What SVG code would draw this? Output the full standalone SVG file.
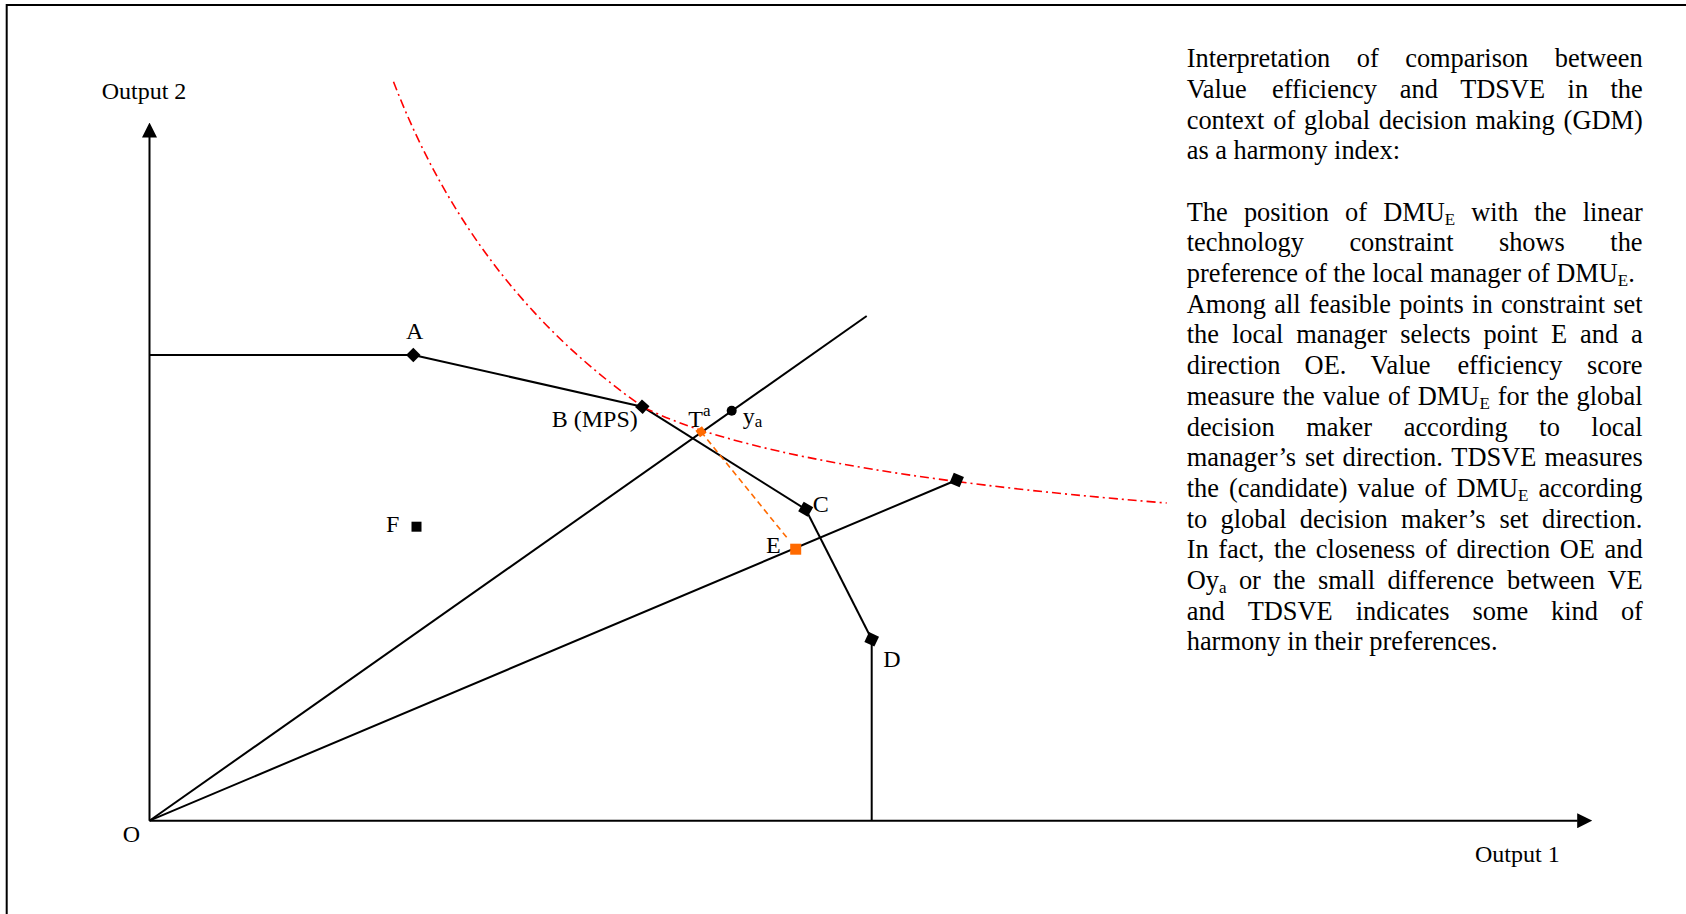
<svg xmlns="http://www.w3.org/2000/svg" xmlns:xlink="http://www.w3.org/1999/xlink" width="1686" height="914" viewBox="0 0 1686 914">
<style>
.ln{stroke:#000;stroke-width:2;fill:none}
.frame{stroke:#000;stroke-width:2;fill:none}
.curve{stroke:#ff0000;stroke-width:1.6;fill:none;stroke-dasharray:9 4 2 4}
.odash{stroke:#ff6a00;stroke-width:1.6;fill:none;stroke-dasharray:6 4}
.t{font-family:"Liberation Serif","Times New Roman",serif;fill:#000}
.body{font-size:26.4px}
.lbl{font-size:24px}
.sub{font-size:17px}
.mk{fill:#000}
.omk{fill:#ff6a00}
</style>
<defs>
<marker id="arr" viewBox="0 0 15 15" markerWidth="15" markerHeight="15" refX="0.5" refY="7.5" orient="auto" markerUnits="userSpaceOnUse">
<path d="M0,0 L15,7.5 L0,15 z" fill="#000"/>
</marker>
<rect id="sq" x="-5.5" y="-5.5" width="11" height="11"/>
</defs>
<rect width="1686" height="914" fill="#fff"/>
<path class="frame" d="M6.7,914 V5 H1686"/>

<g id="connectors">
<line class="ln" x1="149.5" y1="820.7" x2="149.5" y2="137" marker-end="url(#arr)"/>
<line class="ln" x1="149.5" y1="820.7" x2="1577.7" y2="820.7" marker-end="url(#arr)"/>
<line class="ln" x1="149.5" y1="355" x2="413.3" y2="355"/>
<line class="ln" x1="413.3" y1="355" x2="642.3" y2="406.7"/>
<line class="ln" x1="642.3" y1="406.7" x2="805.7" y2="509.3"/>
<line class="ln" x1="805.7" y1="509.3" x2="871.7" y2="639.3"/>
<line class="ln" x1="871.7" y1="639.3" x2="871.7" y2="820.7"/>
<line class="ln" x1="149.5" y1="820.7" x2="866.7" y2="316"/>
<line class="ln" x1="149.5" y1="820.7" x2="956.7" y2="480"/>
<path class="curve" d="M393.5,81.7 C446.6,219.9 529,327.2 643,407 C729.4,450.2 902.2,481.8 1166.7,503"/>
<line class="odash" x1="701" y1="431.7" x2="788" y2="539"/>
</g>

<g id="axis-labels">
<text class="t lbl" x="101.7" y="99.3">Output 2</text>
<text class="t lbl" x="1475" y="861.7">Output 1</text>
</g>
<g id="nodeO"><text class="t lbl" x="122.7" y="841.7">O</text></g>
<g id="nodeA">
<use xlink:href="#sq" href="#sq" class="mk" transform="translate(413.3,355) rotate(45) scale(0.93)"/>
<text class="t lbl" x="406" y="339">A</text>
</g>
<g id="nodeB">
<use xlink:href="#sq" href="#sq" class="mk" transform="translate(642.3,406.7) rotate(42) scale(0.93)"/>
<text class="t lbl" x="551.7" y="427.3">B (MPS)</text>
</g>
<g id="nodeC">
<use xlink:href="#sq" href="#sq" class="mk" transform="translate(805.7,509.3) rotate(30)"/>
<text class="t lbl" x="812.7" y="512">C</text>
</g>
<g id="nodeD">
<use xlink:href="#sq" href="#sq" class="mk" transform="translate(871.7,639.3) rotate(25)"/>
<text class="t lbl" x="883.3" y="667">D</text>
</g>
<g id="nodeR">
<use xlink:href="#sq" href="#sq" class="mk" transform="translate(956.7,480) rotate(23)"/>
</g>
<g id="nodeE">
<rect class="omk" x="790.2" y="543.7" width="11" height="11"/>
<text class="t lbl" x="766" y="552.7">E</text>
</g>
<g id="nodeF">
<rect class="mk" x="411.5" y="521.7" width="10" height="10"/>
<text class="t lbl" x="386" y="532">F</text>
</g>
<g id="nodeTa">
<rect class="omk" x="697" y="427.7" width="8" height="8" transform="rotate(-35,701,431.7)"/>
<text class="t lbl" x="688.3" y="426.7">T<tspan class="sub" dy="-11">a</tspan></text>
</g>
<g id="nodeYa">
<circle class="mk" cx="731.7" cy="410.7" r="5"/>
<text class="t lbl" x="742.7" y="424">y<tspan class="sub" dy="3">a</tspan></text>
</g>

<g id="description" class="t body">
<text y="67.3"><tspan x="1186.7">Interpretation</tspan><tspan x="1356.8">of</tspan><tspan x="1405.2">comparison</tspan><tspan x="1554.8">between</tspan></text>
<text y="98"><tspan x="1186.7">Value</tspan><tspan x="1272">efficiency</tspan><tspan x="1399.8">and</tspan><tspan x="1460.2">TDSVE</tspan><tspan x="1567.6">in</tspan><tspan x="1610.4">the</tspan></text>
<text y="128.7"><tspan x="1186.7">context</tspan><tspan x="1273.2">of</tspan><tspan x="1304">global</tspan><tspan x="1378.8">decision</tspan><tspan x="1475.6">making</tspan><tspan x="1563.6">(GDM)</tspan></text>
<text y="159.3"><tspan x="1186.7">as</tspan><tspan x="1215.3">a</tspan><tspan x="1233.6">harmony</tspan><tspan x="1334.1">index:</tspan></text>
<text y="220.7"><tspan x="1186.7">The</tspan><tspan x="1243.9">position</tspan><tspan x="1345.1">of</tspan><tspan x="1383.2">DMU</tspan><tspan class="sub" dy="4">E</tspan><tspan x="1471.3" dy="-4">with</tspan><tspan x="1534.3">the</tspan><tspan x="1582.7">linear</tspan></text>
<text y="251.4"><tspan x="1186.7">technology</tspan><tspan x="1349.4">constraint</tspan><tspan x="1498.9">shows</tspan><tspan x="1610.3">the</tspan></text>
<text y="282.1"><tspan x="1186.7">preference</tspan><tspan x="1304.7">of</tspan><tspan x="1333.3">the</tspan><tspan x="1372.2">local</tspan><tspan x="1430.1">manager</tspan><tspan x="1527.6">of</tspan><tspan x="1556.2">DMU</tspan><tspan class="sub" dy="4">E</tspan><tspan dy="-4">.</tspan></text>
<text y="312.7"><tspan x="1186.7">Among</tspan><tspan x="1274.2">all</tspan><tspan x="1308.9">feasible</tspan><tspan x="1399.3">points</tspan><tspan x="1472.1">in</tspan><tspan x="1500.9">constraint</tspan><tspan x="1613.3">set</tspan></text>
<text y="343.4"><tspan x="1186.7">the</tspan><tspan x="1232">local</tspan><tspan x="1296.3">manager</tspan><tspan x="1400.2">selects</tspan><tspan x="1483.6">point</tspan><tspan x="1550.9">E</tspan><tspan x="1580">and</tspan><tspan x="1631.1">a</tspan></text>
<text y="374.1"><tspan x="1186.7">direction</tspan><tspan x="1304.6">OE.</tspan><tspan x="1370.4">Value</tspan><tspan x="1457.4">efficiency</tspan><tspan x="1586.9">score</tspan></text>
<text y="404.8"><tspan x="1186.7">measure</tspan><tspan x="1282.6">the</tspan><tspan x="1322.8">value</tspan><tspan x="1387.9">of</tspan><tspan x="1417.8">DMU</tspan><tspan class="sub" dy="4">E</tspan><tspan x="1497.7" dy="-4">for</tspan><tspan x="1536.4">the</tspan><tspan x="1576.6">global</tspan></text>
<text y="435.5"><tspan x="1186.7">decision</tspan><tspan x="1306.2">maker</tspan><tspan x="1403.7">according</tspan><tspan x="1539.3">to</tspan><tspan x="1591.3">local</tspan></text>
<text y="466.1"><tspan x="1186.7">manager’s</tspan><tspan x="1305">set</tspan><tspan x="1342.5">direction.</tspan><tspan x="1451.3">TDSVE</tspan><tspan x="1544.6">measures</tspan></text>
<text y="496.8"><tspan x="1186.7">the</tspan><tspan x="1228.9">(candidate)</tspan><tspan x="1357.5">value</tspan><tspan x="1424.6">of</tspan><tspan x="1456.5">DMU</tspan><tspan class="sub" dy="4">E</tspan><tspan x="1538.4" dy="-4">according</tspan></text>
<text y="527.5"><tspan x="1186.7">to</tspan><tspan x="1220.5">global</tspan><tspan x="1299.8">decision</tspan><tspan x="1401.1">maker’s</tspan><tspan x="1499.4">set</tspan><tspan x="1542">direction.</tspan></text>
<text y="558.2"><tspan x="1186.7">In</tspan><tspan x="1218.2">fact,</tspan><tspan x="1273.9">the</tspan><tspan x="1315.7">closeness</tspan><tspan x="1424.9">of</tspan><tspan x="1456.4">direction</tspan><tspan x="1559.8">OE</tspan><tspan x="1604.5">and</tspan></text>
<text y="588.8"><tspan x="1186.7">Oy</tspan><tspan class="sub" dy="4">a</tspan><tspan x="1238.9" dy="-4">or</tspan><tspan x="1273.3">the</tspan><tspan x="1318">small</tspan><tspan x="1387.6">difference</tspan><tspan x="1507">between</tspan><tspan x="1607.4">VE</tspan></text>
<text y="619.5"><tspan x="1186.7">and</tspan><tspan x="1247.7">TDSVE</tspan><tspan x="1355.7">indicates</tspan><tspan x="1472.5">some</tspan><tspan x="1551.1">kind</tspan><tspan x="1620.9">of</tspan></text>
<text y="650.2"><tspan x="1186.7">harmony</tspan><tspan x="1287.2">in</tspan><tspan x="1314.3">their</tspan><tspan x="1369.3">preferences.</tspan></text>
</g>
</svg>
